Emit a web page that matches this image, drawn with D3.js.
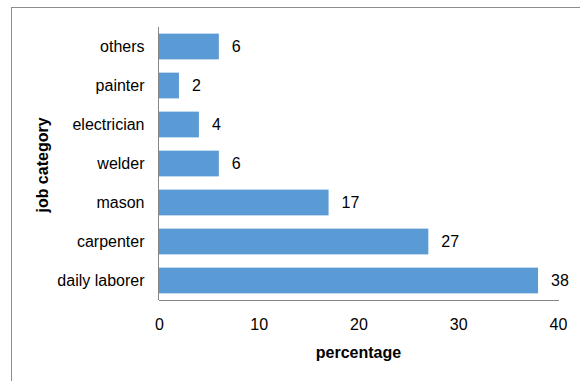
<!DOCTYPE html>
<html>
<head>
<meta charset="utf-8">
<script src="https://cdn.jsdelivr.net/npm/d3@7"></script>
<style>
  body { margin: 0; background: #fff; }
  text { font-family: "Liberation Sans", Arial, sans-serif; fill: #000; }
</style>
</head>
<body>
<svg id="chart" width="580" height="381"></svg>
<script>
var categories = ["others", "painter", "electrician", "welder", "mason", "carpenter", "daily laborer"]
var values = [6, 2, 4, 6, 17, 27, 38]
var xTicks = [0, 10, 20, 30, 40]

var margin = { left: 159, top: 27, right: 22, bottom: 81 }
var width = 580, height = 381

const svg = d3.select("#chart")

// outer frame
svg.append("rect")
    .attr("x", 11.5).attr("y", 7.5)
    .attr("width", 600).attr("height", 400)
    .style("fill", "none")
    .style("stroke", "#8c8c8c")
    .style("stroke-width", 1)

let x = d3.scaleLinear().domain([0, 40]).range([margin.left, 558])
let y = d3.scaleBand().domain(categories).range([margin.top, 300]).paddingInner(0.34).paddingOuter(0.17)

svg.append("g")
    .selectAll("rect")
    .data(categories)
    .enter().append("rect")
    .attr("x", x(0))
    .attr("y", d => y(d))
    .attr("width", (d, i) => x(values[i]) - x(0))
    .attr("height", y.bandwidth())
    .style("fill", "#5b9bd5")

// value labels
svg.append("g")
    .selectAll("text")
    .data(categories)
    .enter().append("text")
    .attr("x", (d, i) => x(values[i]) + 13)
    .attr("y", d => y(d) + y.bandwidth() / 2)
    .attr("dy", "0.35em")
    .style("font-size", "16px")
    .text((d, i) => values[i])

// x axis
let xAxis = svg.append("g")
    .attr("transform", "translate(0,300)")
    .call(d3.axisBottom(x).tickValues(xTicks).tickSize(0).tickPadding(19))
xAxis.select(".domain").style("stroke", "#868686").attr("d", "M" + x(0) + ",0.5H" + (x(40) + 1))
xAxis.selectAll("text").style("font-size", "16px").style("font-family", "Liberation Sans, Arial, sans-serif").attr("dy", "0.71em")

// y axis
let yAxis = svg.append("g")
    .attr("transform", "translate(" + (x(0) - 0.5) + ",0)")
    .call(d3.axisLeft(y).tickSize(0).tickPadding(14))
yAxis.select(".domain").style("stroke", "#868686").attr("d", "M0," + margin.top + "V300")
yAxis.selectAll("text").style("font-size", "16px").style("font-family", "Liberation Sans, Arial, sans-serif")

// axis titles
svg.append("text")
    .attr("x", x(20))
    .attr("y", 358)
    .attr("text-anchor", "middle")
    .style("font-size", "16px")
    .style("font-weight", "bold")
    .text("percentage")

svg.append("text")
    .attr("transform", "translate(48,165) rotate(-90)")
    .attr("text-anchor", "middle")
    .style("font-size", "16px")
    .style("font-weight", "bold")
    .text("job category")
</script>
</body>
</html>
